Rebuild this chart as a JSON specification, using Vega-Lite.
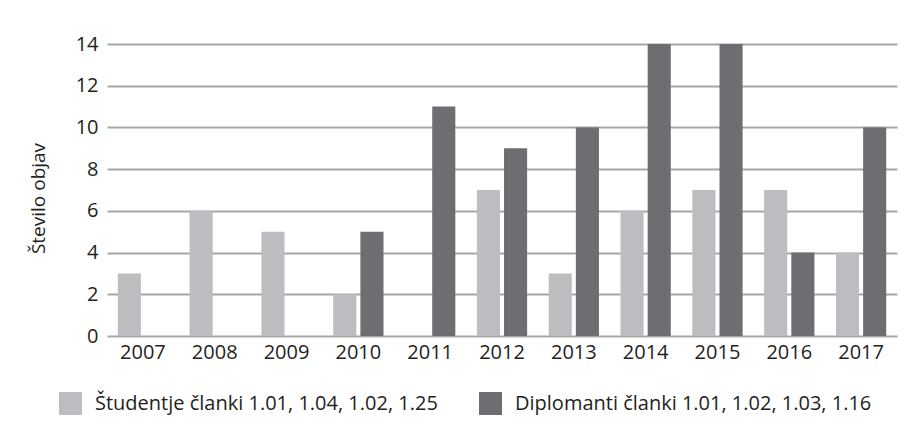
{
  "$schema": "https://vega.github.io/schema/vega-lite/v6.json",
  "autosize": {"type": "none"},
  "width": 790,
  "height": 292,
  "padding": {"left": 107, "top": 44, "right": 25, "bottom": 100},
  "background": "white",
  "config": {
    "view": {"stroke": null},
    "font": "Open Sans",
    "axis": {"labelFont": "Open Sans", "titleFont": "Open Sans", "labelColor": "#231f20", "titleColor": "#231f20"},
    "legend": {"labelFont": "Open Sans", "labelColor": "#231f20"}
  },
  "data": {
    "values": [
      {"leto": "2007", "skupina": "Študentje članki 1.01, 1.04, 1.02, 1.25", "objave": 3},
      {"leto": "2008", "skupina": "Študentje članki 1.01, 1.04, 1.02, 1.25", "objave": 6},
      {"leto": "2009", "skupina": "Študentje članki 1.01, 1.04, 1.02, 1.25", "objave": 5},
      {"leto": "2010", "skupina": "Študentje članki 1.01, 1.04, 1.02, 1.25", "objave": 2},
      {"leto": "2011", "skupina": "Študentje članki 1.01, 1.04, 1.02, 1.25", "objave": 0},
      {"leto": "2012", "skupina": "Študentje članki 1.01, 1.04, 1.02, 1.25", "objave": 7},
      {"leto": "2013", "skupina": "Študentje članki 1.01, 1.04, 1.02, 1.25", "objave": 3},
      {"leto": "2014", "skupina": "Študentje članki 1.01, 1.04, 1.02, 1.25", "objave": 6},
      {"leto": "2015", "skupina": "Študentje članki 1.01, 1.04, 1.02, 1.25", "objave": 7},
      {"leto": "2016", "skupina": "Študentje članki 1.01, 1.04, 1.02, 1.25", "objave": 7},
      {"leto": "2017", "skupina": "Študentje članki 1.01, 1.04, 1.02, 1.25", "objave": 4},
      {"leto": "2007", "skupina": "Diplomanti članki 1.01, 1.02, 1.03, 1.16", "objave": 0},
      {"leto": "2008", "skupina": "Diplomanti članki 1.01, 1.02, 1.03, 1.16", "objave": 0},
      {"leto": "2009", "skupina": "Diplomanti članki 1.01, 1.02, 1.03, 1.16", "objave": 0},
      {"leto": "2010", "skupina": "Diplomanti članki 1.01, 1.02, 1.03, 1.16", "objave": 5},
      {"leto": "2011", "skupina": "Diplomanti članki 1.01, 1.02, 1.03, 1.16", "objave": 11},
      {"leto": "2012", "skupina": "Diplomanti članki 1.01, 1.02, 1.03, 1.16", "objave": 9},
      {"leto": "2013", "skupina": "Diplomanti članki 1.01, 1.02, 1.03, 1.16", "objave": 10},
      {"leto": "2014", "skupina": "Diplomanti članki 1.01, 1.02, 1.03, 1.16", "objave": 14},
      {"leto": "2015", "skupina": "Diplomanti članki 1.01, 1.02, 1.03, 1.16", "objave": 14},
      {"leto": "2016", "skupina": "Diplomanti članki 1.01, 1.02, 1.03, 1.16", "objave": 4},
      {"leto": "2017", "skupina": "Diplomanti članki 1.01, 1.02, 1.03, 1.16", "objave": 10}
    ]
  },
  "mark": {"type": "bar"},
  "encoding": {
    "x": {
      "field": "leto", "type": "nominal",
      "scale": {"paddingInner": 0.3, "paddingOuter": 0.15},
      "axis": {"title": null, "labelAngle": 0, "labelFontSize": 20, "labelPadding": 6, "ticks": false, "domain": false, "grid": false}
    },
    "xOffset": {
      "field": "skupina", "type": "nominal",
      "sort": ["Študentje članki 1.01, 1.04, 1.02, 1.25", "Diplomanti članki 1.01, 1.02, 1.03, 1.16"],
      "scale": {"paddingInner": 0.15}
    },
    "y": {
      "field": "objave", "type": "quantitative",
      "scale": {"domain": [0, 14]},
      "axis": {
        "title": "Število objav", "titleFontSize": 19, "titleFontWeight": "normal", "titlePadding": 27, "titleY": 154,
        "values": [0, 2, 4, 6, 8, 10, 12, 14],
        "labelFontSize": 20, "labelPadding": 9, "ticks": false, "domain": false,
        "grid": true, "gridColor": "#a6a6a6", "gridWidth": 2
      }
    },
    "color": {
      "field": "skupina", "type": "nominal",
      "sort": ["Študentje članki 1.01, 1.04, 1.02, 1.25", "Diplomanti članki 1.01, 1.02, 1.03, 1.16"],
      "scale": {"range": ["#bcbdc0", "#6d6e71"]},
      "legend": {
        "title": null, "orient": "none", "direction": "horizontal",
        "legendX": -48, "legendY": 348,
        "symbolType": "square", "symbolSize": 529, "symbolStrokeWidth": 0,
        "labelFontSize": 20, "labelOffset": 13, "columnPadding": 41, "labelLimit": 500
      }
    }
  }
}
